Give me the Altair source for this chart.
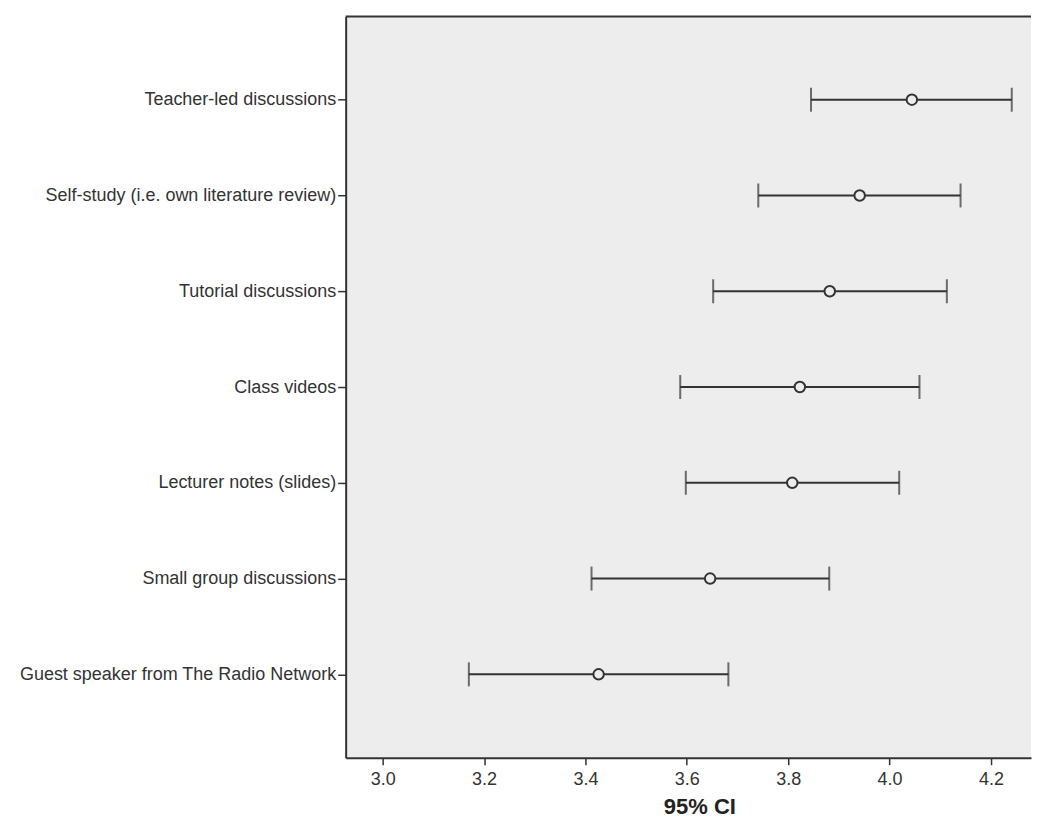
import altair as alt
import pandas as pd

categories = [
    "Teacher-led discussions",
    "Self-study (i.e. own literature review)",
    "Tutorial discussions",
    "Class videos",
    "Lecturer notes (slides)",
    "Small group discussions",
    "Guest speaker from The Radio Network",
]
lower = [3.845, 3.741, 3.652, 3.587, 3.598, 3.412, 3.170]
mean = [4.044, 3.941, 3.882, 3.823, 3.808, 3.646, 3.426]
upper = [4.241, 4.140, 4.113, 4.059, 4.019, 3.881, 3.682]
x_ticks = [3.0, 3.2, 3.4, 3.6, 3.8, 4.0, 4.2]

df = pd.DataFrame({"item": categories, "lower": lower, "mean": mean, "upper": upper})

W, H = 686, 742
FONT = "Liberation Sans"
INK = "#333333"
BG = "#EDEDED"

xscale = alt.Scale(domain=[2.927, 4.279], nice=False, zero=False)
yscale = alt.Scale(type="point", padding=0.87, domain=categories)

xaxis = alt.Axis(
    values=x_ticks, format=".1f", title="95% CI", grid=False,
    tickSize=7, tickColor=INK, tickWidth=1.5,
    domainColor=INK, domainWidth=2,
    labelFont=FONT, labelFontSize=18, labelColor=INK, labelPadding=6,
    titleFont=FONT, titleFontSize=22, titleFontWeight="bold", titleColor="#222222",
    titlePadding=8, titleX=354, titleAnchor="middle",
)
yaxis = alt.Axis(
    title=None, grid=False, tickSize=8, tickColor=INK, tickWidth=1.5,
    domainColor=INK, domainWidth=2,
    labelFont=FONT, labelFontSize=18, labelColor=INK, labelPadding=2,
    labelLimit=400, minExtent=330, maxExtent=330,
)

base = alt.Chart(df)

bars = base.mark_rule(color=INK, strokeWidth=2).encode(
    x=alt.X("lower:Q", scale=xscale, axis=xaxis),
    x2="upper:Q",
    y=alt.Y("item:N", scale=yscale, axis=yaxis, sort=categories),
)
cap_lo = base.mark_tick(color=INK, thickness=2, size=24, orient="vertical").encode(
    x=alt.X("lower:Q", scale=xscale),
    y=alt.Y("item:N", scale=yscale, sort=categories),
)
cap_hi = base.mark_tick(color=INK, thickness=2, size=24, orient="vertical").encode(
    x=alt.X("upper:Q", scale=xscale),
    y=alt.Y("item:N", scale=yscale, sort=categories),
)
dots = base.mark_point(shape="circle", filled=False, size=110, stroke=INK,
                       strokeWidth=2, fill=BG, fillOpacity=1, opacity=1).encode(
    x=alt.X("mean:Q", scale=xscale),
    y=alt.Y("item:N", scale=yscale, sort=categories),
)
top_border = alt.Chart(pd.DataFrame({"k": [0]})).mark_rule(color=INK, strokeWidth=2).encode(
    x=alt.value(0), x2=alt.value(W), y=alt.value(0)
)

chart = (
    alt.layer(bars, cap_lo, cap_hi, dots, top_border)
    .properties(width=W, height=H,
                padding={"left": 8, "top": 7, "right": 0, "bottom": 5},
                view=alt.ViewBackground(fill=BG, strokeWidth=0, stroke="transparent"))
    .configure_view(fill=BG, strokeWidth=0, stroke="transparent")
    .configure(background="white")
)

chart.save("out.html", embed_options={"renderer": "svg", "actions": False})
